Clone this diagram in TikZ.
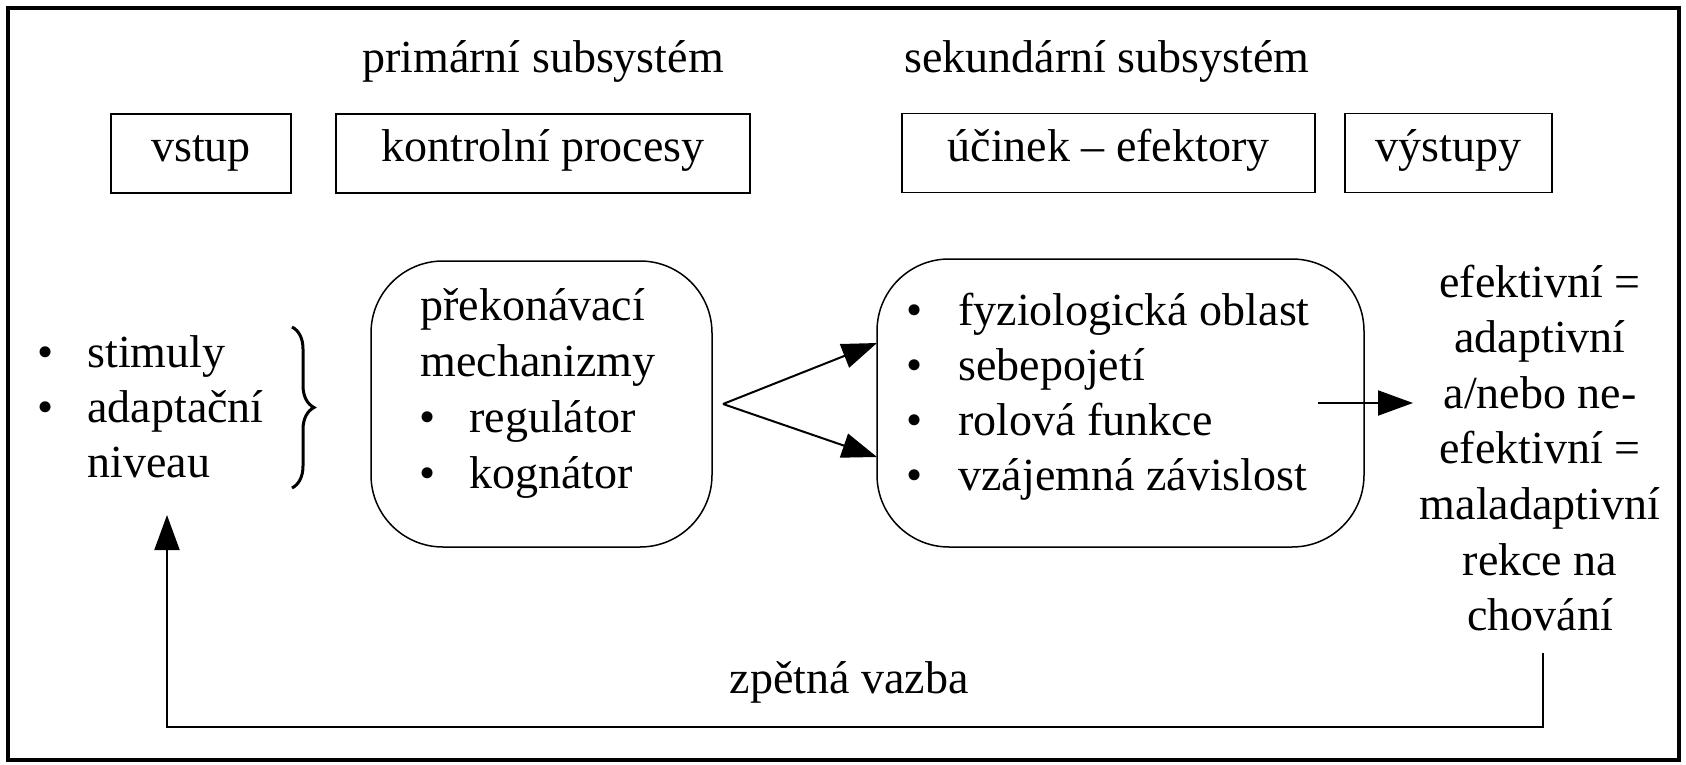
\documentclass[tikz,border=0pt]{standalone}
\usepackage{fontspec}
\setmainfont{Liberation Serif}
\usetikzlibrary{arrows.meta,decorations.pathreplacing}
\begin{document}
\begin{tikzpicture}[x=0.5pt,y=-0.5pt,
  every node/.style={inner sep=0pt, font=\fontsize{23}{27.75}\selectfont},
  sqbox/.style={draw, line width=0.75pt, minimum width=#1, minimum height=39.5pt, text height=14pt, text depth=5.75pt},
  rbox/.style={draw, line width=0.75pt, rounded corners=36pt},
  ln/.style={anchor=base west},
  cl/.style={anchor=base},
  arr/.style={line width=1pt, -{Triangle[length=17.5pt,width=12.5pt]}},
]
\useasboundingbox (0,0) rectangle (1686,765);
\draw[line width=1.6pt] (8,8) rectangle (1679,760);

% titles
\node[cl] (prim) at (543,73) {primární subsystém};
\node[cl] (sek) at (1107,73) {sekundární subsystém};

% top boxes
\node[sqbox=90pt] (vstup) at (201,153.5) {vstup};
\node[sqbox=207pt] (kontr) at (543,153.5) {kontrolní procesy};
\node[sqbox=206.5pt] (ucin) at (1108.5,153) {účinek -- efektory};
\node[sqbox=103.5pt] (vyst) at (1448.5,153) {výstupy};

% left list
\node[cl] (b1) at (46,367) {•};
\node[ln] (l1) at (87,367) {stimuly};
\node[cl] (b2) at (46,422) {•};
\node[ln] (l2) at (87,422) {adaptační};
\node[ln] (l3) at (87,477) {niveau};
\draw[line width=1.5pt, decorate, decoration={brace, amplitude=11pt}] (292,327) -- (292,488);

% rounded box 1
\node[rbox, minimum width=170.5pt, minimum height=143pt] (box1) at (541.5,404) {};
\node[ln] (m1) at (420,320) {překonávací};
\node[ln] (m2) at (420,376) {mechanizmy};
\node[cl] (mb1) at (428,432) {•};
\node[ln] (m3) at (469,432) {regulátor};
\node[cl] (mb2) at (428,488) {•};
\node[ln] (m4) at (469,488) {kognátor};

% rounded box 2
\node[rbox, minimum width=243.5pt, minimum height=144pt] (box2) at (1120.5,403) {};
\node[cl] (eb1) at (915,325) {•};
\node[ln] (e1) at (958,325) {fyziologická oblast};
\node[cl] (eb2) at (915,380) {•};
\node[ln] (e2) at (958,380) {sebepojetí};
\node[cl] (eb3) at (915,435) {•};
\node[ln] (e3) at (958,435) {rolová funkce};
\node[cl] (eb4) at (915,490) {•};
\node[ln] (e4) at (958,490) {vzájemná závislost};

% right column
\node[cl] (r1) at (1540,297) {efektivní =};
\node[cl] (r2) at (1540,352) {adaptivní};
\node[cl] (r3) at (1540,408) {a/nebo ne-};
\node[cl] (r4) at (1540,463) {efektivní =};
\node[cl] (r5) at (1540,519) {maladaptivní};
\node[cl] (r6) at (1540,575) {rekce na};
\node[cl] (r7) at (1540,630) {chování};

% arrows
\coordinate (fork) at (723,404);
\coordinate (tipA) at (877,343);
\coordinate (tipB) at (877,457);
\draw[arr] (fork) -- (tipA);
\draw[arr] (fork) -- (tipB);
\coordinate (outS) at (1318,403);
\coordinate (outE) at (1413,403);
\draw[arr] (outS) -- (outE);

% feedback
\coordinate (fbS) at (1543,653);
\coordinate (fbE) at (167,515);
\draw[arr] (fbS) -- ++(0,74) -| (fbE);
\node[cl] (zv) at (849,693) {zpětná vazba};
\end{tikzpicture}
\end{document}
